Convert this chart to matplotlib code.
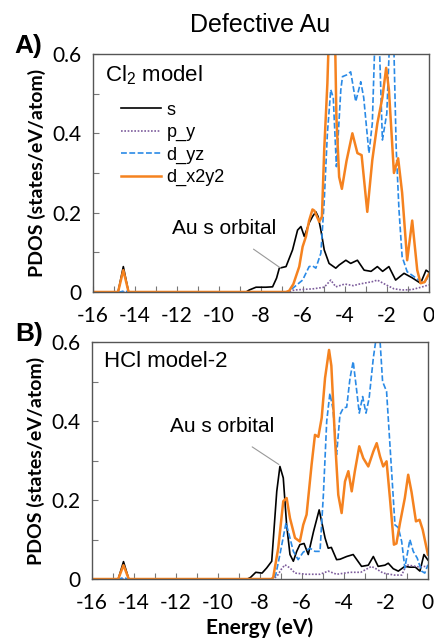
import matplotlib
matplotlib.use("Agg")
import matplotlib.pyplot as plt
from matplotlib.ticker import MultipleLocator, FuncFormatter

# ---- panel A : Cl2 model ----
a_s_x = [-16, -14.8, -14.55, -14.3, -8.7, -8.55, -8.23, -7.76, -7.44, -7.25, -7.12, -6.8, -6.49,
         -6.25, -6.09, -5.93, -5.7, -5.54, -5.38, -5.27, -5.14, -4.98, -4.75, -4.43, -4.27, -3.95,
         -3.72, -3.4, -3.08, -2.75, -2.45, -2.2, -1.9, -1.58, -1.18, -0.8, -0.39, -0.13, 0]
a_s_y = [0, 0, 0.064, 0, 0, 0.005, 0.012, 0.012, 0.013, 0.035, 0.06, 0.064, 0.106,
         0.156, 0.165, 0.14, 0.174, 0.19, 0.202, 0.19, 0.156, 0.106, 0.072, 0.06, 0.068, 0.08,
         0.072, 0.08, 0.055, 0.052, 0.064, 0.052, 0.064, 0.03, 0.047, 0.036, 0.022, 0.055, 0.05]

a_py_x = [-16, -6.7, -6.4, -5.5, -4.98, -4.67, -4.43, -4.0, -3.6, -3.3, -2.69, -2.45, -2.0,
          -1.66, -1.27, -0.8, -0.3, 0]
a_py_y = [0, 0, 0.005, 0.008, 0.012, 0.03, 0.013, 0.02, 0.016, 0.02, 0.026, 0.03, 0.017,
          0.008, 0.005, 0.006, 0.013, 0.018]

a_dyz_x = [-16, -14.7, -14.5, -14.3, -6.7, -6.49, -6.01, -5.7, -5.54, -5.38, -5.14, -4.98, -4.83,
           -4.67, -4.55, -4.4, -4.19, -4.11, -3.92, -3.72, -3.48, -3.24, -3.1, -2.85, -2.69,
           -2.53, -2.4, -2.21, -2.0, -1.82, -1.7, -1.55, -1.42, -1.27, -1.03, -0.71, -0.47,
           -0.25, 0]
a_dyz_y = [0, 0, 0.003, 0, 0, 0.009, 0.03, 0.064, 0.066, 0.06, 0.098, 0.23, 0.4,
           0.51, 0.49, 0.316, 0.51, 0.543, 0.547, 0.555, 0.48, 0.53, 0.49, 0.35, 0.425,
           0.7, 0.7, 0.383, 0.45, 0.7, 0.7, 0.358, 0.207, 0.089, 0.051, 0.039, 0.03,
           0.022, 0.039]

a_dx2_x = [-16, -14.8, -14.55, -14.3, -6.8, -6.65, -6.45, -6.17, -6.01, -5.85, -5.7, -5.54,
           -5.45, -5.22, -5.09, -4.98, -4.83, -4.7, -4.5, -4.4, -4.27, -4.14, -3.92, -3.64,
           -3.4, -3.2, -2.93, -2.69, -2.45, -2.21, -2.03, -1.9, -1.66, -1.46, -1.27, -1.03,
           -0.79, -0.55, -0.39, -0.2, 0]
a_dx2_y = [0, 0, 0.055, 0, 0, 0.003, 0.02, 0.064, 0.114, 0.14, 0.18, 0.208,
           0.205, 0.177, 0.19, 0.36, 0.526, 0.75, 0.75, 0.44, 0.29, 0.26, 0.33, 0.4,
           0.35, 0.345, 0.202, 0.333, 0.425, 0.49, 0.565, 0.51, 0.3, 0.337, 0.25, 0.08,
           0.18, 0.055, 0.022, 0.025, 0.045]

# ---- panel B : HCl model-2 ----
b_s_x = [-16, -14.75, -14.5, -14.25, -8.6, -8.45, -8.2, -7.9, -7.68, -7.44, -7.2, -7.05, -6.89,
         -6.73, -6.57, -6.41, -6.25, -6.1, -5.9, -5.7, -5.45, -5.18, -4.9, -4.75, -4.6, -4.35,
         -4.19, -3.87, -3.56, -3.4, -3.16, -2.84, -2.6, -2.37, -2.05, -1.89, -1.65, -1.41, -1.1,
         -0.86, -0.6, -0.38, -0.19, 0]
b_s_y = [0, 0, 0.044, 0, 0, 0.004, 0.017, 0.015, 0.028, 0.045, 0.222, 0.285, 0.256,
         0.137, 0.062, 0.045, 0.07, 0.087, 0.09, 0.062, 0.12, 0.175, 0.104, 0.078, 0.08, 0.049,
         0.05, 0.057, 0.062, 0.05, 0.032, 0.035, 0.057, 0.032, 0.035, 0.04, 0.026, 0.02, 0.032,
         0.03, 0.03, 0.02, 0.062, 0.048]

b_py_x = [-16, -7.35, -7.15, -6.98, -6.81, -6.57, -6.33, -5.8, -5.14, -4.75, -4.35, -3.71, -3.2,
          -2.69, -2.44, -2.13, -1.6, -1.25, -1.02, -0.7, -0.38, 0]
b_py_y = [0, 0, 0.01, 0.025, 0.036, 0.028, 0.015, 0.012, 0.012, 0.02, 0.012, 0.017, 0.017,
          0.032, 0.025, 0.015, 0.01, 0.01, 0.036, 0.033, 0.03, 0.033]

b_dyz_x = [-16, -14.7, -14.5, -14.3, -7.4, -7.25, -7.05, -6.76, -6.6, -6.41, -6.18, -5.94, -5.62,
           -5.38, -5.14, -4.98, -4.82, -4.67, -4.52, -4.35, -4.19, -4.03, -3.87, -3.71, -3.56,
           -3.4, -3.27, -3.11, -2.95, -2.8, -2.6, -2.44, -2.3, -2.16, -1.97, -1.73, -1.57, -1.41,
           -1.25, -1.1, -0.86, -0.7, -0.51, -0.3, -0.15, 0]
b_dyz_y = [0, 0, 0.004, 0, 0, 0.01, 0.062, 0.142, 0.11, 0.07, 0.049, 0.068, 0.078,
           0.07, 0.07, 0.213, 0.4, 0.47, 0.43, 0.315, 0.416, 0.433, 0.435, 0.509, 0.551,
           0.48, 0.42, 0.462, 0.42, 0.458, 0.56, 0.62, 0.62, 0.5, 0.475, 0.273, 0.137, 0.13,
           0.095, 0.028, 0.1, 0.07, 0.053, 0.02, 0.015, 0.036]

b_dx2_x = [-16, -14.75, -14.5, -14.25, -7.45, -7.37, -7.13, -6.89, -6.73, -6.57, -6.33, -6.1,
           -5.94, -5.78, -5.54, -5.38, -5.22, -5.06, -4.9, -4.71, -4.6, -4.43, -4.27, -4.11,
           -3.95, -3.79, -3.63, -3.48, -3.27, -3.08, -2.84, -2.6, -2.44, -2.28, -2.13, -1.97,
           -1.81, -1.62, -1.5, -1.33, -1.1, -0.94, -0.78, -0.57, -0.4, -0.25, 0]
b_dx2_y = [0, 0, 0.035, 0, 0, 0.004, 0.078, 0.197, 0.205, 0.154, 0.104, 0.095,
           0.137, 0.163, 0.29, 0.365, 0.36, 0.408, 0.509, 0.58, 0.54, 0.357, 0.213, 0.167,
           0.247, 0.273, 0.222, 0.273, 0.336, 0.306, 0.285, 0.323, 0.344, 0.31, 0.285, 0.298,
           0.205, 0.087, 0.09, 0.142, 0.205, 0.264, 0.22, 0.146, 0.15, 0.125, 0.062]

labels = ["s", "p_y", "d_yz", "d_x2y2"]
c_s, c_py, c_dyz, c_dx2 = "black", "#7d5c9c", "#2a8ae6", "#f5821f"

plt.rcParams["font.family"] = ["Liberation Sans", "DejaVu Sans"]
plt.rcParams["axes.unicode_minus"] = False
tick_font = "Lato"

fig = plt.figure(figsize=(4.34, 6.41), dpi=100)
axA = fig.add_axes([0.214, 0.5445, 0.774, 0.3713])
axB = fig.add_axes([0.212, 0.0967, 0.774, 0.3697])


def draw_panel(ax, sx, sy, px, py, yx, yy, dx, dy):
    ax.plot(sx, sy, color=c_s, lw=1.2, label=labels[0])
    ax.plot(px, py, color=c_py, lw=1.2, ls=(0, (1, 1)), label=labels[1])
    ax.plot(yx, yy, color=c_dyz, lw=1.2, ls=(0, (3.5, 1.5)), label=labels[2])
    ax.plot(dx, dy, color=c_dx2, lw=1.8, label=labels[3])
    ax.set_xlim(-16, 0)
    ax.set_ylim(0, 0.6)
    ax.xaxis.set_major_locator(MultipleLocator(2))
    ax.xaxis.set_minor_locator(MultipleLocator(1))
    ax.yaxis.set_major_locator(MultipleLocator(0.2))
    ax.yaxis.set_minor_locator(MultipleLocator(0.1))
    ax.yaxis.set_major_formatter(FuncFormatter(lambda v, p: "%g" % round(v, 2)))
    ax.tick_params(which="both", direction="in", length=4, width=0.8, color="#777777")
    ax.tick_params(axis="y", which="major", pad=8)
    ax.tick_params(axis="x", which="major", pad=10)
    for lab in ax.get_xticklabels() + ax.get_yticklabels():
        lab.set_fontfamily(tick_font)
        lab.set_fontsize(15)
    for sp in ax.spines.values():
        sp.set_color("#555555")
        sp.set_linewidth(1.0)
    ax.set_ylabel("PDOS (states/eV/atom)", fontsize=14, fontweight="bold",
                  fontfamily=tick_font, labelpad=5)


draw_panel(axA, a_s_x, a_s_y, a_py_x, a_py_y, a_dyz_x, a_dyz_y, a_dx2_x, a_dx2_y)
draw_panel(axB, b_s_x, b_s_y, b_py_x, b_py_y, b_dyz_x, b_dyz_y, b_dx2_x, b_dx2_y)

axA.text(-15.43, 0.547, r"Cl$_\mathregular{2}$ model", fontsize=16, va="center", ha="left")
axB.text(-15.43, 0.55, "HCl model-2", fontsize=16, va="center", ha="left")

axA.legend(loc="upper left", bbox_to_anchor=(0.085, 0.80), frameon=False, fontsize=13,
           handlelength=2.2, handletextpad=0.3, labelspacing=0.3, borderpad=0, borderaxespad=0)

axA.annotate("Au s orbital", xy=(-7.05, 0.06), xytext=(-9.73, 0.159), fontsize=15,
             ha="center", va="center",
             arrowprops=dict(arrowstyle="-", color="#999999", lw=0.8, shrinkA=10, shrinkB=0))
axB.annotate("Au s orbital", xy=(-7.1, 0.29), xytext=(-9.81, 0.385), fontsize=15,
             ha="center", va="center",
             arrowprops=dict(arrowstyle="-", color="#999999", lw=0.8, shrinkA=10, shrinkB=0))

axB.set_xlabel("Energy (eV)", fontsize=15, fontweight="bold", fontfamily=tick_font, labelpad=3)

fig.text(0.599, 0.961, "Defective Au", fontsize=18, ha="center", va="center")
fig.text(0.065, 0.928, "A)", fontsize=19, fontweight="bold", ha="center", va="center")
fig.text(0.067, 0.479, "B)", fontsize=19, fontweight="bold", ha="center", va="center")

fig.savefig("out.png", dpi=100)
